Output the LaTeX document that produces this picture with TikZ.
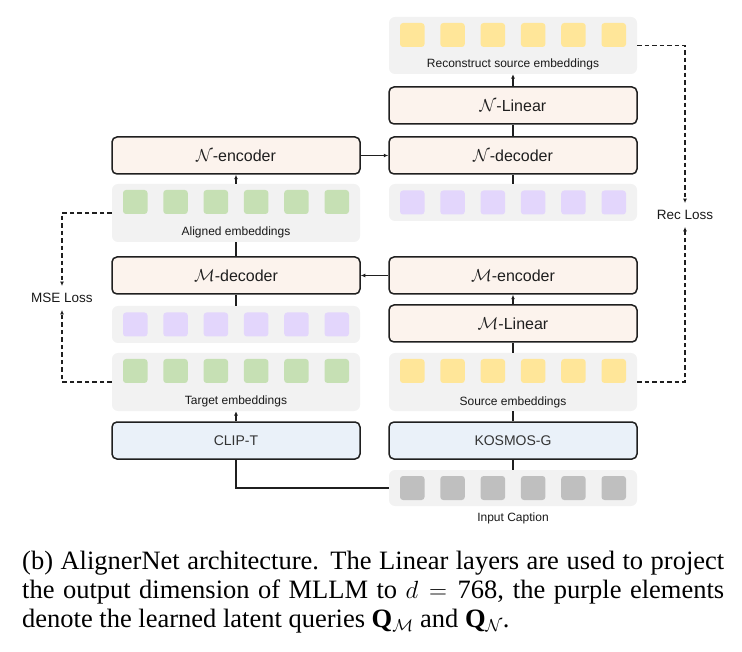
\documentclass[tikz,border=0pt]{standalone}
\usepackage{fontspec}
\setmainfont{Liberation Serif}
\setsansfont{Liberation Sans}
\usetikzlibrary{arrows.meta}
\definecolor{peach}{HTML}{FCF3ED}
\definecolor{lblue}{HTML}{EAF1F9}
\definecolor{pgray}{HTML}{F2F2F2}
\definecolor{sqgreen}{HTML}{C6E0B4}
\definecolor{sqpurple}{HTML}{E3D6FC}
\definecolor{sqyellow}{HTML}{FFE699}
\definecolor{sqgray}{HTML}{BFBFBF}
\definecolor{ink}{HTML}{1F1F1F}
\newcommand\tokrow[4]{%
  \foreach \i in {0,...,5} {\node[sq, fill=#4] (#1\i) at ({#2+(\i-2.5)*40.3}, #3) {};}%
}
\begin{document}
\begin{tikzpicture}[x=1pt,y=-1pt,
  block/.style={draw=ink, line width=1.5pt, rounded corners=5pt, fill=peach,
    minimum width=248pt, minimum height=37pt, inner sep=0pt,
    font=\sffamily\fontsize{16}{18}\selectfont, text=ink},
  encbox/.style={block, fill=lblue, font=\sffamily\fontsize{14}{16}\selectfont, text=black!80},
  panel/.style={fill=pgray, rounded corners=6pt, minimum width=248pt, inner sep=0pt},
  sq/.style={rounded corners=3pt, minimum width=24.5pt, minimum height=24pt, inner sep=0pt},
  plabel/.style={font=\sffamily\fontsize{12}{14}\selectfont, text=black!90, inner sep=0pt},
  losslabel/.style={font=\sffamily\fontsize{13.5}{15}\selectfont, text=black!90, inner sep=0pt},
  conn/.style={draw=ink, line width=1.4pt},
  arr/.style={conn, -{Latex[length=4.5pt,width=4pt]}},
  lossline/.style={draw=ink, line width=1.4pt, dash pattern=on 4.5pt off 3pt},
  lossarr/.style={lossline, -{Latex[length=4.5pt,width=4pt]}, shorten >=7pt}
]
\useasboundingbox (0,0) rectangle (742,652);

% right column
\node[panel, minimum height=57pt] (rec) at (513,45.5) {};
\tokrow{recsq}{513}{35}{sqyellow}
\node[plabel] (reclbl) at (513,64) {Reconstruct source embeddings};
\node[block] (nlin) at (513,105.5) {$\mathcal{N}$-Linear};
\node[block] (ndec) at (513,155.5) {$\mathcal{N}$-decoder};
\node[panel, minimum height=37pt] (qn) at (513,202.5) {};
\tokrow{qnsq}{513}{202.5}{sqpurple}
\node[block] (menc) at (513,275.5) {$\mathcal{M}$-encoder};
\node[block] (mlin) at (513,323.5) {$\mathcal{M}$-Linear};
\node[panel, minimum height=58pt] (src) at (513,382) {};
\tokrow{srcsq}{513}{371}{sqyellow}
\node[plabel] (srclbl) at (513,402) {Source embeddings};
\node[encbox] (kos) at (513,440.5) {KOSMOS-G};
\node[panel, minimum height=36pt] (inp) at (513,488) {};
\tokrow{inpsq}{513}{488}{sqgray}
\node[plabel] (inplbl) at (513,518) {Input Caption};

% left column
\node[block] (nenc) at (236,155.5) {$\mathcal{N}$-encoder};
\node[panel, minimum height=58pt] (ali) at (236,213) {};
\tokrow{alisq}{236}{202}{sqgreen}
\node[plabel] (alilbl) at (236,232) {Aligned embeddings};
\node[block] (mdec) at (236,275.5) {$\mathcal{M}$-decoder};
\node[panel, minimum height=37pt] (qm) at (236,324.5) {};
\tokrow{qmsq}{236}{324.5}{sqpurple}
\node[panel, minimum height=58pt] (tgt) at (236,382) {};
\tokrow{tgtsq}{236}{371}{sqgreen}
\node[plabel] (tgtlbl) at (236,401) {Target embeddings};
\node[encbox] (clip) at (236,440.5) {CLIP-T};

% loss labels
\node[losslabel] (mse) at (62,298) {MSE Loss};
\node[losslabel] (recl) at (685,215) {Rec Loss};

% connectors
\draw[arr] (nlin.north) -- (rec.south);
\draw[conn] (ndec.north) -- (nlin.south);
\draw[arr] (nenc.east) -- (ndec.west);
\draw[conn] (qn.north) -- (ndec.south);
\draw[arr] (ali.north) -- (nenc.south);
\draw[conn] (mdec.north) -- (ali.south);
\draw[arr] (menc.west) -- (mdec.east);
\draw[conn] (qm.north) -- (mdec.south);
\draw[arr] (mlin.north) -- (menc.south);
\draw[conn] (src.north) -- (mlin.south);
\draw[arr] (clip.north) -- (tgt.south);
\draw[conn] (kos.north) -- (src.south);
\draw[conn] (inp.north) -- (kos.south);
\draw[conn] (clip.south) |- (inp.west);

% loss connectors
\draw[lossarr] (ali.west) -| (mse.north);
\draw[lossarr] (tgt.west) -| (mse.south);
\draw[lossarr] (rec.east) -| (recl.north);
\draw[lossarr] (src.east) -| (recl.south);

% caption
\node[anchor=north west, inner sep=0pt, text width=702pt, align=justify,
  font=\fontsize{26.5}{29}\selectfont] (cap) at (22,551)
  {(b) AlignerNet architecture. The Linear layers are used to project\linebreak
   the output dimension of MLLM to $d=\mbox{768}$, the purple elements\linebreak
   denote the learned latent queries $\mathbf{Q}_{\mathcal{M}}$ and $\mathbf{Q}_{\mathcal{N}}$.};
\end{tikzpicture}
\end{document}
